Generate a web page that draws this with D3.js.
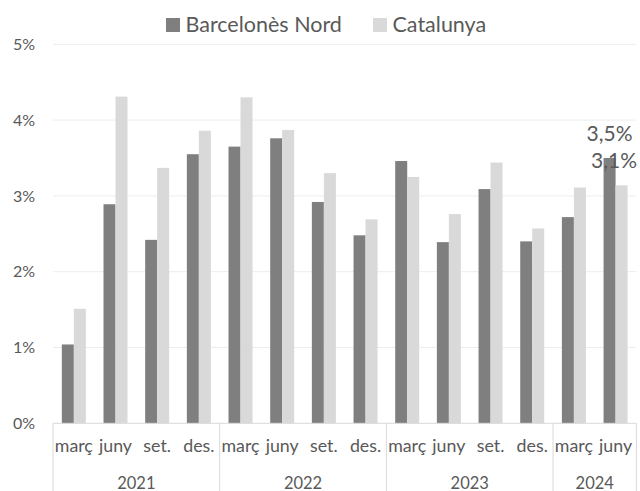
<!DOCTYPE html>
<html>
<head>
<meta charset="utf-8">
<script src="https://cdn.jsdelivr.net/npm/d3@7"></script>
<style>
  body { margin: 0; background: #fff; }
  svg { display: block; font-family: Lato, "Open Sans", sans-serif; }
  text { fill: #595959; }
</style>
</head>
<body>
<script>
'use strict';

// chart data
let years = ["2021", "2022", "2023", "2024"];
let months = ["març", "juny", "set.", "des."];
let periods = [
  ["2021", "març"], ["2021", "juny"], ["2021", "set."], ["2021", "des."],
  ["2022", "març"], ["2022", "juny"], ["2022", "set."], ["2022", "des."],
  ["2023", "març"], ["2023", "juny"], ["2023", "set."], ["2023", "des."],
  ["2024", "març"], ["2024", "juny"]
];
let seriesNames = ["Barcelonès Nord", "Catalunya"];
let barcelonesNord = [1.04, 2.89, 2.42, 3.55, 3.65, 3.76, 2.92, 2.48, 3.46, 2.39, 3.09, 2.40, 2.72, 3.50];
let catalunya = [1.51, 4.31, 3.37, 3.86, 4.30, 3.87, 3.30, 2.69, 3.25, 2.76, 3.44, 2.57, 3.11, 3.14];
let yTicks = [0, 1, 2, 3, 4, 5];
// labels shown only on the last period
let lastLabels = ["3,5%", "3,1%"];

let colors = ["#7f7f7f", "#d9d9d9"];

let width = 640, height = 491;
let margin = { top: 44.3, left: 53, bottom: 68, right: 3.6 };

let svg = d3.select("body")
  .append("svg")
  .attr("width", width)
  .attr("height", height);

// scales
let xScale = d3.scaleBand()
  .domain(d3.range(periods.length))
  .range([margin.left, width - margin.right])
  .padding(0);

let barW = 12;
let xInner = d3.scaleBand()
  .domain([0, 1])
  .range([(xScale.bandwidth() - 2 * barW) / 2, (xScale.bandwidth() + 2 * barW) / 2]);

let yScale = d3.scaleLinear()
  .domain([0, 5])
  .range([height - margin.bottom + 0.3, margin.top]);

// gridlines
svg.append("g")
  .selectAll("line")
  .data(yTicks.slice(1))
  .enter()
  .append("line")
  .attr("x1", margin.left)
  .attr("x2", width - margin.right)
  .attr("y1", d => yScale(d))
  .attr("y2", d => yScale(d))
  .attr("stroke", "#ededed")
  .attr("stroke-width", 1);

// y labels
svg.append("g")
  .selectAll("text")
  .data(yTicks)
  .enter()
  .append("text")
  .attr("x", 35)
  .attr("y", d => yScale(d))
  .attr("dy", "0.36em")
  .attr("text-anchor", "end")
  .style("font-size", "16px")
  .text(d => d + "%");

// bars
let series = [barcelonesNord, catalunya];
series.forEach((values, s) => {
  svg.append("g")
    .selectAll("rect")
    .data(values)
    .enter()
    .append("rect")
    .attr("x", (d, i) => xScale(i) + xInner(s))
    .attr("width", xInner.bandwidth())
    .attr("y", d => yScale(d))
    .attr("height", d => yScale(0) - yScale(d))
    .attr("fill", colors[s]);
});

// data labels on the last period, kept inside the chart
let last = periods.length - 1;
series.forEach((values, s) => {
  let label = svg.append("text")
    .attr("y", yScale(values[last]) - 17.5)
    .attr("text-anchor", "middle")
    .style("font-size", "21px")
    .text(lastLabels[s]);
  let w = label.node().getComputedTextLength();
  let cx = xScale(last) + xInner(s) + xInner.bandwidth() / 2;
  label.attr("x", Math.min(cx, width - 3 - w / 2));
});

// x axis line and group separators
let axisY = yScale(0);
svg.append("line")
  .attr("x1", margin.left)
  .attr("x2", width - margin.right)
  .attr("y1", axisY)
  .attr("y2", axisY)
  .attr("stroke", "#d9d9d9");

let groupEdges = [0];
years.forEach(y => {
  let n = periods.filter(p => p[0] === y).length;
  groupEdges.push(groupEdges[groupEdges.length - 1] + n);
});

svg.append("g")
  .selectAll("line")
  .data(groupEdges)
  .enter()
  .append("line")
  .attr("x1", d => d < periods.length ? xScale(d) : xScale(last) + xScale.bandwidth())
  .attr("x2", d => d < periods.length ? xScale(d) : xScale(last) + xScale.bandwidth())
  .attr("y1", axisY)
  .attr("y2", height)
  .attr("stroke", "#d9d9d9");

// month labels
svg.append("g")
  .selectAll("text")
  .data(periods)
  .enter()
  .append("text")
  .attr("x", (d, i) => xScale(i) + xScale.bandwidth() / 2)
  .attr("y", 452)
  .attr("text-anchor", "middle")
  .style("font-size", "17.8px")
  .text(d => d[1]);

// year labels
svg.append("g")
  .selectAll("text")
  .data(years)
  .enter()
  .append("text")
  .attr("x", (d, i) => {
    let a = xScale(groupEdges[i]);
    let b = xScale(groupEdges[i + 1] - 1) + xScale.bandwidth();
    return (a + b) / 2;
  })
  .attr("y", 488.5)
  .attr("text-anchor", "middle")
  .style("font-size", "16.5px")
  .text(d => d);

// legend
let legendX = [166, 373];
seriesNames.forEach((name, s) => {
  let g = svg.append("g").attr("transform", "translate(" + legendX[s] + ",0)");
  g.append("rect")
    .attr("x", 0)
    .attr("y", 18)
    .attr("width", 14)
    .attr("height", 14)
    .attr("fill", colors[s]);
  g.append("text")
    .attr("x", 19.5)
    .attr("y", 31.7)
    .style("font-size", "21.5px")
    .text(name);
});
</script>
</body>
</html>
